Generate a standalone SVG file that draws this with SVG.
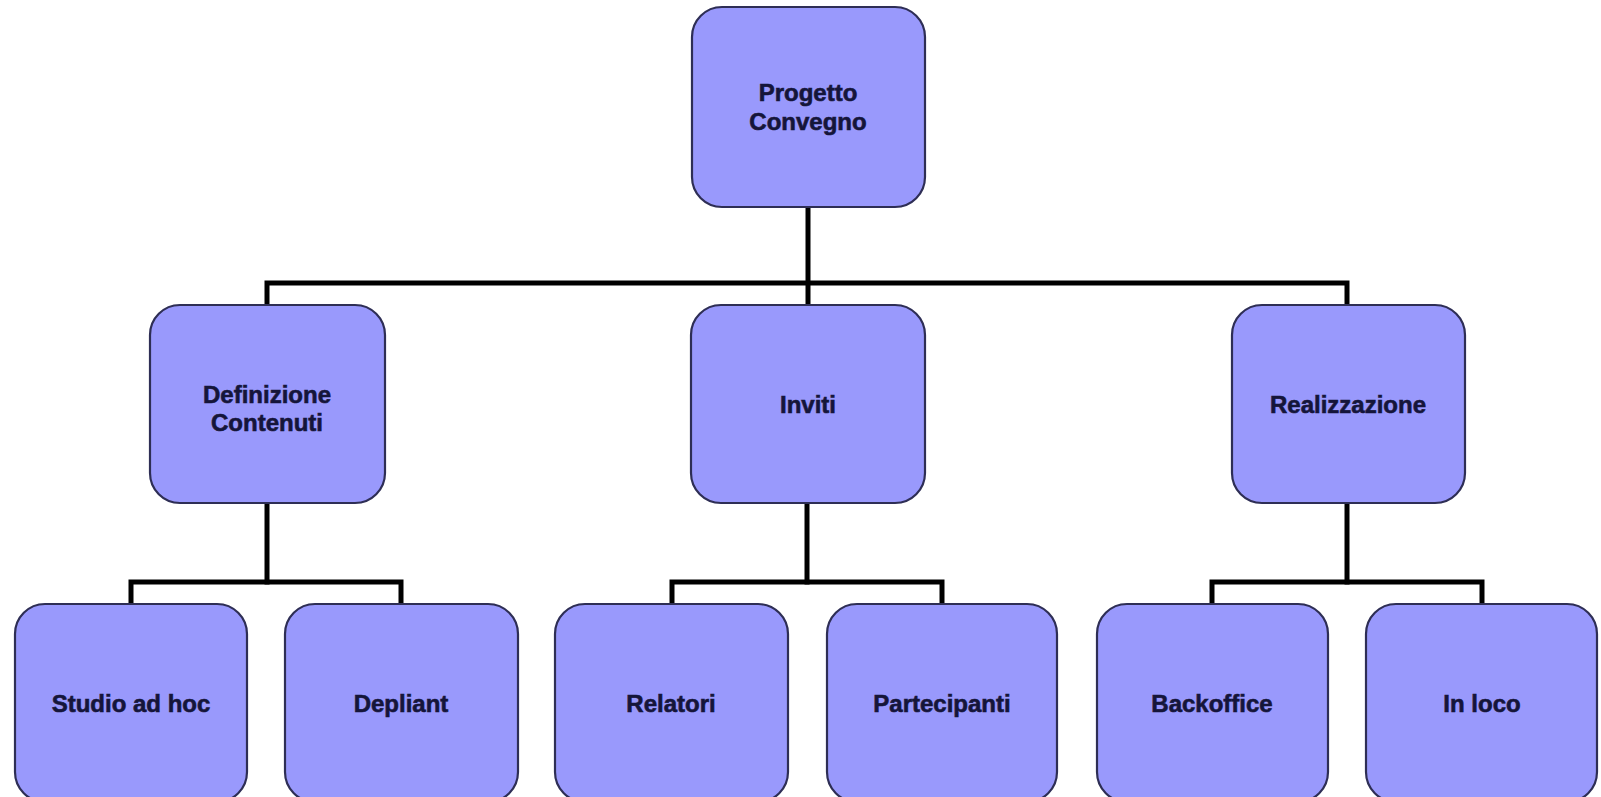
<svg xmlns="http://www.w3.org/2000/svg" width="1601" height="797" viewBox="0 0 1601 797">
  <style>
    .box { fill: #9999fc; stroke: #2e2e55; stroke-width: 2.2; }
    .lbl { font-family: "Liberation Sans", Arial, sans-serif; font-weight: bold; font-size: 24px; fill: #15153a; stroke: #15153a; stroke-width: 0.6; text-anchor: middle; }
    .wire { fill: none; stroke: #000; stroke-width: 5; stroke-linecap: square; stroke-linejoin: miter; }
  </style>
  <rect width="1601" height="797" fill="#ffffff"/>

  <!-- tree connectors -->
  <g id="connectors">
    <path class="wire" d="M808 207 V305"/>
    <path class="wire" d="M267 305 V283 H1347 V305"/>
    <path class="wire" d="M267 503 V582"/>
    <path class="wire" d="M131 604 V582 H401 V604"/>
    <path class="wire" d="M807 503 V582"/>
    <path class="wire" d="M672 604 V582 H942 V604"/>
    <path class="wire" d="M1347 503 V582"/>
    <path class="wire" d="M1212 604 V582 H1482 V604"/>
  </g>

  <!-- root -->
  <g id="progetto-convegno">
    <rect class="box" x="692" y="7" width="233" height="200" rx="30"/>
    <text class="lbl" x="808" y="101">Progetto</text>
    <text class="lbl" x="808" y="130">Convegno</text>
  </g>

  <!-- second level -->
  <g id="definizione-contenuti">
    <rect class="box" x="150" y="305" width="235" height="198" rx="30"/>
    <text class="lbl" x="267" y="403">Definizione</text>
    <text class="lbl" x="267" y="431">Contenuti</text>
  </g>
  <g id="inviti">
    <rect class="box" x="691" y="305" width="234" height="198" rx="30"/>
    <text class="lbl" x="808" y="413">Inviti</text>
  </g>
  <g id="realizzazione">
    <rect class="box" x="1232" y="305" width="233" height="198" rx="30"/>
    <text class="lbl" x="1348" y="413">Realizzazione</text>
  </g>

  <!-- leaves -->
  <g id="studio-ad-hoc">
    <rect class="box" x="15" y="604" width="232" height="198" rx="30"/>
    <text class="lbl" x="131" y="712">Studio ad hoc</text>
  </g>
  <g id="depliant">
    <rect class="box" x="285" y="604" width="233" height="198" rx="30"/>
    <text class="lbl" x="401" y="712">Depliant</text>
  </g>
  <g id="relatori">
    <rect class="box" x="555" y="604" width="233" height="198" rx="30"/>
    <text class="lbl" x="671" y="712">Relatori</text>
  </g>
  <g id="partecipanti">
    <rect class="box" x="827" y="604" width="230" height="198" rx="30"/>
    <text class="lbl" x="942" y="712">Partecipanti</text>
  </g>
  <g id="backoffice">
    <rect class="box" x="1097" y="604" width="231" height="198" rx="30"/>
    <text class="lbl" x="1212" y="712">Backoffice</text>
  </g>
  <g id="in-loco">
    <rect class="box" x="1366" y="604" width="231" height="198" rx="30"/>
    <text class="lbl" x="1482" y="712">In loco</text>
  </g>
</svg>
